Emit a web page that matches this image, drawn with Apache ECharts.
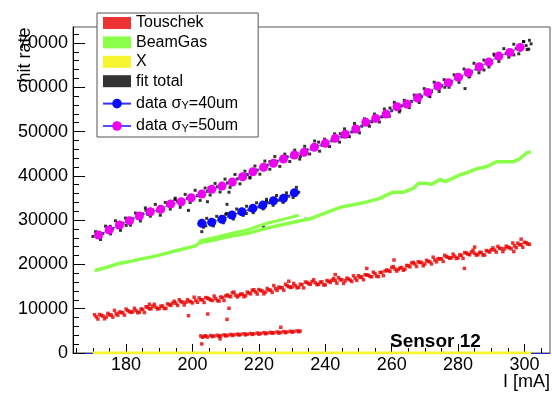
<!DOCTYPE html>
<html>
<head>
<meta charset="utf-8">
<script src="https://cdn.jsdelivr.net/npm/echarts@6/dist/echarts.min.js"></script>
<style>
  html, body { margin: 0; padding: 0; background: #fff; }
  #chart { width: 552px; height: 395px; }
</style>
</head>
<body>
<div id="chart"></div>
<script>
// tick positions
var xMajor = [180, 200, 220, 240, 260, 280, 300];
var xMinor = [165, 170, 175, 185, 190, 195, 205, 210, 215, 225, 230, 235, 245, 250, 255, 265, 270, 275, 285, 290, 295, 305];
var yMajor = [0, 10000, 20000, 30000, 40000, 50000, 60000, 70000];
var yMinor = [2000, 4000, 6000, 8000, 12000, 14000, 16000, 18000, 22000, 24000, 26000, 28000, 32000, 34000, 36000, 38000,
              42000, 44000, 46000, 48000, 52000, 54000, 56000, 58000, 62000, 64000, 66000, 68000, 72000];

// data sigma_Y = 50um
var d50X = [171.7, 174.9, 178.0, 181.0, 184.0, 187.3, 190.4, 193.4, 196.6, 199.6, 202.8, 205.8, 208.9, 212.0,
            215.1, 218.2, 221.4, 224.4, 227.4, 230.7, 233.6, 236.7, 240.0, 243.0, 246.0, 249.2, 252.2, 255.2,
            258.3, 261.6, 264.6, 267.8, 270.9, 273.9, 277.1, 280.1, 283.1, 286.4, 289.3, 292.3, 295.6, 298.7];
var d50Y = [26630, 27760, 28890, 29860, 30920, 31890, 32430, 33630, 34150, 35050, 35890, 36950, 37690, 38600,
            39800, 40920, 41910, 42820, 43790, 44690, 45300, 46430, 47330, 48460, 49360, 50560, 52070, 52970,
            53940, 55590, 56200, 57550, 58840, 60260, 61010, 62230, 63260, 64620, 65680, 67030, 67870, 69000];

// data sigma_Y = 40um
var d40X = [202.8, 205.8, 208.9, 211.9, 214.9, 218.2, 221.2, 224.4, 227.4, 230.7];
var d40Y = [29270, 29500, 30180, 31150, 31890, 32660, 33400, 34370, 34920, 36180];

// fit total
var fitUpper = [[170,26300],[171.5,26900],[173,27000],[174.5,27900],[176,28100],[177.5,28300],[179,29300],[180.5,29500],
  [182,30300],[183.5,30500],[185,31400],[186.5,31300],[188,32300],[189.5,32100],[191,32900],[192.5,33500],[194,33700],
  [195.5,34300],[197,34100],[198.5,34900],[200,35300],[201.5,35500],[203,36100],[204.5,36500],[206,36800],[207.5,37500],
  [209,37500],[210.5,38400],[212,38400],[213.5,39300],[215,39400],[216.5,40300],[218,40600],[219.5,41300],[221,41600],
  [222.5,42400],[224,42400],[225.5,43300],[227,43500],[228.5,44300],[230,44300],[231.5,45000],[233,45000],[234.5,45900],
  [236,46000],[237.5,46800],[239,46900],[240.5,47700],[242,47900],[243.5,48800],[245,48800],[246.5,49700],[248,49900],
  [249.5,51000],[251,51200],[252.5,52300],[254,52200],[255.5,53300],[257,53300],[258.5,54300],[260,54700],[261.5,55400],
  [263,55800],[264.5,56100],[266,56800],[267.5,57500],[269,57900],[270.5,58600],[272,59000],[273.5,60000],[275,60300],
  [276.5,61000],[278,61300],[279.5,62200],[281,62300],[282.5,63100],[284,63500],[285.5,64100],[287,64700],[288.5,65500],
  [290,65700],[291.5,66600],[293,67000],[294.5,67600],[296,68200],[297.5,68700],[299,69200],[300.5,69400],[302,69800]];
var fitUpperWide = [[170.8,27400],[172.3,25630],[173.8,28640],[175.3,26900],[176.8,29850],[178.3,27690],[179.8,30460],
  [181.3,28860],[182.8,31600],[184.3,29810],[185.8,32750],[187.3,30890],[188.8,33550],[190.3,31110],[191.8,33990],
  [193.3,32490],[194.8,34960],[196.3,32900],[197.8,35810],[199.3,33960],[200.8,36730],[202.3,34450],[203.8,37240],
  [205.3,35670],[206.8,38290],[208.3,36350],[209.8,39250],[211.3,37390],[212.8,40310],[214.3,38190],[215.8,41050],
  [217.3,39500],[218.8,42210],[220.3,40370],[221.8,43330],[223.3,41490],[224.8,44350],[226.3,42130],[227.8,44900],
  [229.3,43230],[230.8,45810],[232.3,43780],[233.8,46670],[235.3,44920],[236.8,47860],[238.3,45570],[239.8,48280],
  [241.3,46620],[242.8,49490],[244.3,47620],[245.8,50600],[247.3,48850],[248.8,51810],[250.3,49710],[251.8,52870],
  [253.3,51200],[254.8,53950],[256.3,52150],[257.8,55080],[259.3,53440],[260.8,56590],[262.3,54430],[263.8,57040],
  [265.3,55400],[266.8,58230],[268.3,56560],[269.8,59680],[271.3,58030],[272.8,61140],[274.3,59050],[275.8,61710],
  [277.3,59990],[278.8,62800],[280.3,61100],[281.8,64110],[283.3,62340],[284.8,65410],[286.3,63280],[287.8,66130],
  [289.3,64580],[290.8,67460],[292.3,65830],[293.8,68710],[295.3,66790],[296.8,69710],[298.3,67550],[299.8,70300],
  [301.3,68600]];
var fitSpread = [[175.2,28600],[180,28800],[186,32200],[194.7,34600],[205,37300],[217.3,39700],[223.3,43200],[232.5,44400],
  [238,47600],[244.5,49500],[247,48900],[253,51500],[259.5,55300],[262.5,54800],[268.5,58300],[271.5,57900],[276,60000],
  [283.5,62500],[287.8,63900],[291,67200],[296.8,67300],[299.7,70300],[300.8,68500],[301.5,70600],
  [198.8,32200],[204.5,34150],[210.4,33560],[211,36300],[202.8,27400],[221.4,28400],[234.2,30200],[282.1,59700]];
var fitLower = [[202,29000],[203.5,29400],[205,29600],[206.5,29900],[208,30100],[209.5,30600],[211,30900],[212.5,31300],
  [214,31600],[215.5,32000],[217,32300],[218.5,32800],[220,33000],[221.5,33600],[223,33900],[224.5,34300],[226,34500],
  [227.5,35000],[229,35400],[230.5,35800],[232,36300],[204,28700],[210,31300],[216.2,31500],[222.3,34200],[228.3,35500],
  [231.2,36600]];
var fitLowerWide = [[203.3,28400],[204.3,30400],[206.3,28700],[207.3,30850],[209.3,29400],[210.3,31500],[212.3,30250],
  [213.3,32500],[215.3,31080],[216.3,33130],[218.3,31680],[219.3,33900],[221.3,32530],[222.3,34700],[224.3,33350],
  [225.3,35550],[227.3,34000],[228.3,36150],[230.3,35100],[231.3,37400]];

// BeamGas
var beamGasMain = [[170.5,18600],[172,18900],[174,19300],[176,19800],[177.7,20200],[180,20500],[182,20800],[185,21300],
  [187.8,21700],[190,22100],[192,22500],[195,23100],[197.8,23600],[199.5,23900],[201,24200],[202,24900],[205,25300],
  [208,25800],[211,26300],[214,26700],[217,27100],[220,27700],[223,28300],[226,28800],[229,29300],[232,29800],[235,30200],
  [238,31000],[241,31900],[244.5,32900],[248,33400],[252,34000],[256.5,34900],[258.5,35700],[260.5,36300],[263.6,36300],
  [266.6,37200],[268.1,38300],[270,38300],[272.1,38100],[274.6,39200],[276.1,38700],[278,39300],[280.6,40200],[283,40800],
  [285.2,41500],[288.7,42100],[291.7,43200],[294,43200],[296.7,43200],[298.7,43900],[300.7,45200],[301.9,45400]];
var beamGasBranch = [[202,25300],[205,25800],[208,26300],[211,26900],[214,27400],[217,27900],[220,28700],[223,29400],
  [226,29900],[229,30500],[232,31100]];

// X
var xComp = [[170,0],[302,0]];

// Touschek
var touschekA = [[170.5,8640],[171.5,7670],[172.5,8500],[173.5,7720],[174.5,8950],[175.5,8580],[176.5,9610],[177.5,8540],
  [178.5,9150],[179.5,8560],[180.5,9570],[181.5,9180],[182.5,10090],[183.5,9100],[184.5,9920],[185.5,9130],[186.5,10340],
  [187.5,9950],[188.5,10990],[189.5,9940],[190.5,10590],[191.5,10040],[192.5,11090],[193.5,10740],[194.5,11690],
  [195.5,10740],[196.5,11590],[197.5,10840],[198.5,12030],[199.5,11610],[200.5,12590],[201.5,11460],[202.5,12040],
  [203.5,11420],[204.5,12400],[205.5,11970],[206.5,12850],[207.5,11830],[208.5,12640],[209.5,11860],[210.5,13090],
  [211.5,12710],[212.5,13740],[213.5,12660],[214.5,13290],[215.5,12710],[216.5,13740],[217.5,13360],[218.5,14280],
  [219.5,13310],[220.5,14130],[221.5,13350],[222.5,14570],[223.5,14190],[224.5,15220],[225.5,14140],[226.5,14760],
  [227.5,14180],[228.5,15190],[229.5,14800],[230.5,15700],[231.5,14710],[232.5,15510],[233.5,14710],[234.5,15920],
  [235.5,15520],[236.5,16530],[237.5,15430],[238.5,16010],[239.5,15380],[240.5,16350],[241.5,15930],[242.5,16800],
  [243.5,15770],[244.5,16540],[245.5,15710],[246.5,16890],[247.5,16460],[248.5,17430],[249.5,16400],[250.5,17070],
  [251.5,16540],[252.5,17610],[253.5,17280],[254.5,18250],[255.5,17320],[256.5,18190],[257.5,17460],[258.5,18730],
  [259.5,18420],[260.5,19510],[261.5,18500],[262.5,19190],[263.5,18680],[264.5,19770],[265.5,19460],[266.5,20450],
  [267.5,19540],[268.5,20430],[269.5,19680],[270.5,20930],[271.5,20580],[272.5,21630],[273.5,20580],[274.5,21230],
  [275.5,20680],[276.5,21730],[277.5,21380],[278.5,22330],[279.5,21340],[280.5,22150],[281.5,21360],[282.5,22570],
  [283.5,22180],[284.5,23190],[285.5,22100],[286.5,22710],[287.5,22120],[288.5,23130],[289.5,22780],[290.5,23730],
  [291.5,22780],[292.5,23630],[293.5,22880],[294.5,24130],[295.5,23780],[296.5,24830],[297.5,23780],[298.5,24430],
  [299.5,23880],[300.5,24910],[301.5,24540]];
var touschekB = [[171,8150],[173,8350],[175,8600],[177,8850],[179,9100],[181,9350],[183,9600],[185,9850],[187,10000],
  [189,10300],[191,10600],[193,10900],[195,11250],[197,11500],[199,11650],[201,11850],[203,12000],[205,12200],[207,12300],
  [209,12550],[211,12800],[213,13050],[215,13300],[217,13550],[219,13800],[221,14000],[223,14250],[225,14500],[227,14750],
  [229,15000],[231,15200],[233,15450],[235,15650],[237,15850],[239,16050],[241,16200],[243,16350],[245,16550],[247,16700],
  [249,16900],[251,17200],[253,17550],[255,17900],[257,18200],[259,18600],[261,18950],[263,19300],[265,19700],[267,20100],
  [269,20450],[271,20700],[273,21000],[275,21300],[277,21600],[279,21850],[281,22050],[283,22300],[285,22500],[287,22700],
  [289,23000],[291,23250],[293,23600],[295,23900],[297,24200],[299,24500],[301,24600]];
var touschekC = [[172,8690],[174,8140],[176,8100],[178,9250],[180,9920],[182,9290],[184,9210],[186,10440],[188,10570],
  [190,10070],[192,10070],[194,11270],[196,12020],[198,11440],[200,11300],[202,12450],[204,12510],[206,11860],[208,11740],
  [210,12880],[212,13580],[214,12980],[216,12930],[218,14170],[220,14320],[222,13760],[224,13700],[226,14850],[228,15540],
  [230,14900],[232,14810],[234,16020],[236,16130],[238,15520],[240,15370],[242,16420],[244,17010],[246,16300],[248,16150],
  [250,17440],[252,17680],[254,17220],[256,17260],[258,18500],[260,19320],[262,18850],[264,18930],[266,20310],[268,20590],
  [270,20110],[272,20110],[274,21310],[276,22060],[278,21510],[280,21450],[282,22670],[284,22790],[286,22210],[288,22130],
  [290,23310],[292,24060],[294,23510],[296,23510],[298,24810],[300,24990]];
var touschekLow = [[202.5,3850],[203,3550],[203.5,3750],[204,3900],[204.5,3600],[205.5,3950],[206,3700],[206.5,3850],
  [207.5,4000],[208,3750],[208.5,3900],[209.5,4100],[210,3850],[210.5,4000],[211.5,4200],[212,3950],[212.5,4100],
  [213.5,4250],[214,4050],[214.5,4200],[215.5,4350],[216,4100],[216.5,4250],[217.5,4400],[218,4200],[218.5,4350],
  [219.5,4500],[220,4250],[220.5,4400],[221.5,4600],[222,4350],[222.5,4500],[223.5,4650],[224,4450],[224.5,4600],
  [225.5,4750],[226,4500],[226.5,4650],[227.5,4850],[228,4600],[228.5,4750],[229.5,4900],[230,4700],[230.5,4850],
  [231.5,5000],[232,4800],[232.4,4950]];
var touschekOut = [[198.8,8420],[204.6,8800],[211,10100],[210.4,7600],[252.5,19100],[260.7,21000],[281.9,19100],
  [243,17700],[187,11000],[229,16200],[296.8,22900],[299,25700],[285,23900],[226.6,5800],[202.8,2050],[208.3,3200]];

var FONT = 'Liberation Sans';

var chart = echarts.init(document.getElementById('chart'));

var option = {
  animation: false,
  backgroundColor: '#fff',
  textStyle: { fontFamily: FONT },
  grid: { left: 73, top: 27, right: 2, bottom: 42, show: true, borderColor: '#555', borderWidth: 1, backgroundColor: 'transparent' },
  xAxis: [{
    type: 'value', min: 164, max: 307.7, position: 'bottom',
    axisLine: { lineStyle: { color: '#2a2ad0', width: 1 } },
    axisTick: { inside: true, length: 9, customValues: xMajor, lineStyle: { color: '#000' } },
    axisLabel: { customValues: xMajor, margin: 3, fontSize: 18, color: '#000', fontFamily: FONT },
    splitLine: { show: false }
  }, {
    type: 'value', min: 164, max: 307.7, position: 'bottom',
    axisLine: { show: false },
    axisTick: { inside: true, length: 5, customValues: xMinor, lineStyle: { color: '#000' } },
    axisLabel: { show: false },
    splitLine: { show: false }
  }],
  yAxis: [{
    type: 'value', min: 0, max: 73600, position: 'left',
    axisLine: { show: true, lineStyle: { color: '#000', width: 1 } },
    axisTick: { inside: true, length: 12, customValues: yMajor, lineStyle: { color: '#000' } },
    axisLabel: { customValues: yMajor, margin: 5, fontSize: 18, color: '#000', fontFamily: FONT,
                 formatter: function (v) { return String(v); } },
    splitLine: { show: false }
  }, {
    type: 'value', min: 0, max: 73600, position: 'left',
    axisLine: { show: false },
    axisTick: { inside: true, length: 6, customValues: yMinor, lineStyle: { color: '#000' } },
    axisLabel: { show: false },
    splitLine: { show: false }
  }],
  legend: {
    orient: 'vertical', left: 97, top: 13,
    backgroundColor: '#fff', borderColor: '#555', borderWidth: 1,
    padding: [2, 20, 3, 5],
    itemWidth: 28, itemHeight: 12, itemGap: 3.4,
    textStyle: {
      fontFamily: FONT, fontSize: 16, color: '#000', lineHeight: 16,
      rich: { sub: { fontSize: 11, fontFamily: FONT, verticalAlign: 'bottom', lineHeight: 16, padding: [8, 0, 0, 0] } }
    },
    formatter: function (name) { return name.replace('σY', 'σ{sub|Y}'); },
    data: [
      { name: 'Touschek', icon: 'rect' },
      { name: 'BeamGas', icon: 'rect' },
      { name: 'X', icon: 'rect' },
      { name: 'fit total', icon: 'rect' },
      { name: 'data σY=40um' },
      { name: 'data σY=50um' }
    ]
  },
  graphic: [
    { type: 'text', x: 25, y: 55, rotation: Math.PI / 2,
      style: { text: 'hit rate', font: '18px "Liberation Sans"', fill: '#000', align: 'center', verticalAlign: 'middle' } },
    { type: 'text', right: 2, top: 373,
      style: { text: 'I [mA]', font: '18px "Liberation Sans"', fill: '#000' } },
    { type: 'text', left: 390, top: 332, z: 100,
      style: { text: 'Sensor 12', font: 'bold 19px "Liberation Sans"', fill: '#000' } }
  ],
  series: [
    { name: 'Touschek', type: 'scatter', symbol: 'rect', symbolSize: 3.5,
      itemStyle: { color: '#e80000' },
      data: touschekA.concat(touschekB, touschekC, touschekLow, touschekOut) },
    { name: 'BeamGas', type: 'line', showSymbol: false, symbol: 'none',
      itemStyle: { color: '#8aff4a' }, lineStyle: { color: '#8aff4a', width: 3.5 },
      data: beamGasMain },
    { name: 'BeamGas', type: 'line', showSymbol: false, symbol: 'none',
      itemStyle: { color: '#8aff4a' }, lineStyle: { color: '#8aff4a', width: 3 },
      data: beamGasBranch },
    { name: 'X', type: 'line', showSymbol: false, symbol: 'none',
      itemStyle: { color: '#f5f530' }, lineStyle: { color: '#f5f530', width: 3 },
      data: xComp },
    { name: 'fit total', type: 'scatter', symbol: 'rect', symbolSize: 3,
      itemStyle: { color: '#000' },
      data: fitUpper.concat(fitUpperWide, fitSpread, fitLower, fitLowerWide) },
    { name: 'data σY=40um', type: 'line', symbol: 'circle', symbolSize: 9,
      itemStyle: { color: '#0a0aff' }, lineStyle: { color: '#3030ff', width: 1 },
      data: d40X.map(function (x, i) { return [x, d40Y[i]]; }) },
    { name: 'data σY=50um', type: 'line', symbol: 'circle', symbolSize: 9,
      itemStyle: { color: '#f000f0' }, lineStyle: { color: '#5050ff', width: 1 },
      data: d50X.map(function (x, i) { return [x, d50Y[i]]; }) }
  ]
};

chart.setOption(option);
</script>
</body>
</html>
